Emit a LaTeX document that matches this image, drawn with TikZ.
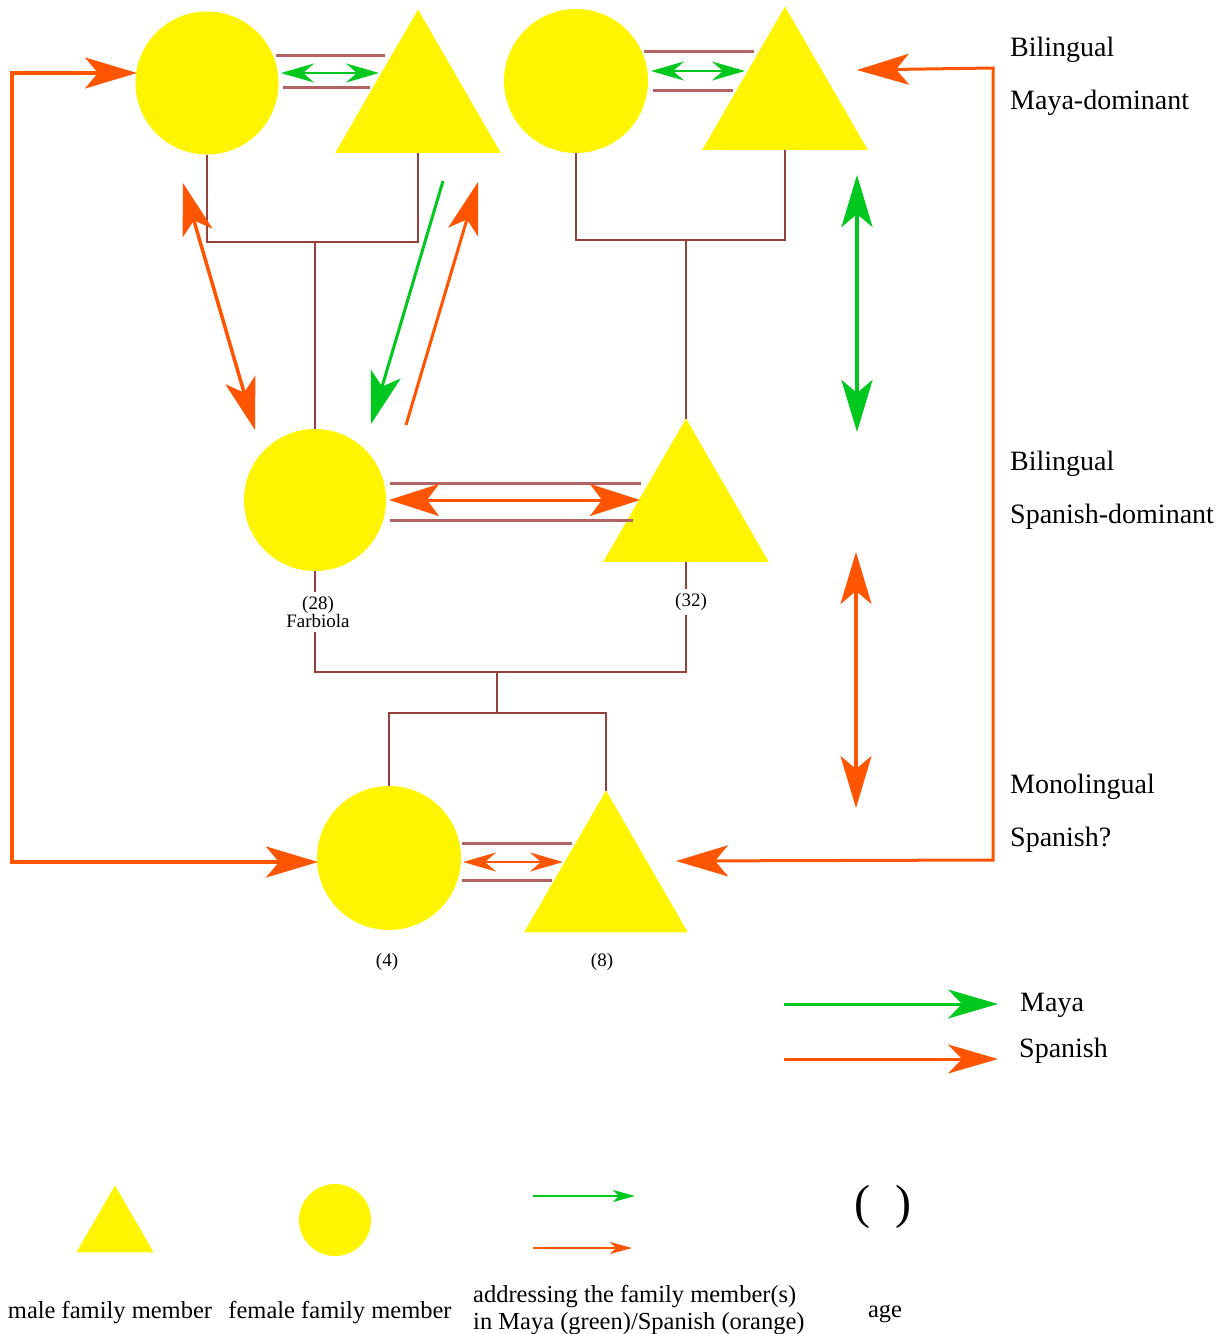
\documentclass[tikz,border=0pt]{standalone}
\usepackage{fontspec}
\setmainfont{Liberation Serif}
\usetikzlibrary{arrows.meta,shapes.geometric}
\definecolor{yel}{RGB}{255,245,0}
\definecolor{org}{RGB}{255,85,0}
\definecolor{grn}{RGB}{0,200,30}
\definecolor{brn}{RGB}{150,65,60}
\definecolor{cplc}{RGB}{178,100,100}
\begin{document}
\begin{tikzpicture}[x=1pt,y=-1pt,
  fem/.style={circle, fill=yel, draw=none, inner sep=0, outer sep=0, minimum size=#1},
  mal/.style={regular polygon, regular polygon sides=3, fill=yel, draw=none, inner sep=0, outer sep=0, minimum size=#1},
  desc/.style={draw=brn, line width=2},
  cpl/.style={draw=cplc, line width=3},
  obig/.style={draw=org, line width=3.5},
  gbig/.style={draw=grn, line width=3.5},
  tboth/.style={arrows={Stealth[length=52pt,width=31pt,inset=13pt]-Stealth[length=52pt,width=31pt,inset=13pt]}},
  tend/.style={arrows={-Stealth[length=52pt,width=31pt,inset=13pt]}},
  tmid/.style={arrows={Stealth[length=50pt,width=32pt,inset=12pt]-Stealth[length=50pt,width=32pt,inset=12pt]}},
  tleg/.style={arrows={-Stealth[length=50pt,width=29pt,inset=14pt]}},
  tsm/.style={arrows={Stealth[length=33pt,width=19pt,inset=11pt]-Stealth[length=33pt,width=19pt,inset=11pt]}},
  ttiny/.style={arrows={-Stealth[length=22pt,width=12pt,inset=6pt]}},
  rt/.style={font=\fontsize{28}{30}\selectfont, anchor=base west, inner sep=0},
  lg/.style={font=\fontsize{24.5}{26}\selectfont, anchor=base, inner sep=0},
  sm/.style={font=\fontsize{19}{18}\selectfont, inner sep=1.5, align=center}
]
\useasboundingbox (0,0) rectangle (1231,1334);
\fill[white] (0,0) rectangle (1231,1334);

% family members
\node[fem=143] (F1) at (207,83) {};
\node[mal=191] (M1) at (418,105) {};
\node[fem=144] (F3) at (576,81) {};
\node[mal=191] (M3) at (785,102) {};
\node[fem=142] (F2) at (315,500) {};
\node[mal=191] (M4) at (686,514) {};
\node[fem=144] (F5) at (389,858) {};
\node[mal=189] (M6) at (606,885) {};

% descent lines
\coordinate (j1) at (315,242);
\coordinate (j2) at (686,240);
\coordinate (j3) at (497,672);
\coordinate (j4) at (497,713);
\draw[desc] (F1.south) |- (j1) -| (M1.south);
\draw[desc] (j1) -- (F2.north);
\draw[desc] (F3.south) |- (j2) -| (M3.south);
\draw[desc] (j2) -- (M4.north);
\draw[desc] (F2.south) |- (j3) -| (M4.south);
\draw[desc] (j3) -- (j4);
\draw[desc] (F5.north) |- (j4) -| (M6.north);

% ages
\node[sm, fill=white, inner ysep=4] (a28) at (318,612) {(28)\\Farbiola};
\node[sm, fill=white, inner ysep=4] (a32) at (691,602) {(32)};
\node[sm] (a4) at (387,962) {(4)};
\node[sm] (a8) at (602,962) {(8)};

% couple lines
\draw[cpl] (276,55) -- (385,55);
\draw[cpl] (283,87) -- (370,87);
\draw[cpl] (644,51) -- (754,51);
\draw[cpl] (653,90) -- (733,90);
\draw[cpl] (390,483) -- (641,483);
\draw[cpl] (390,520) -- (633,520);
\draw[cpl] (462,843) -- (572,843);
\draw[cpl] (462,880) -- (552,880);

% arrow end points
\coordinate (p1a) at (281,73);  \coordinate (p1b) at (379,73);
\coordinate (p2a) at (651,71);  \coordinate (p2b) at (745,71);
\coordinate (p3a) at (389,500); \coordinate (p3b) at (640,500);
\coordinate (p4a) at (463,862); \coordinate (p4b) at (563,862);
\coordinate (d1a) at (183,183); \coordinate (d1b) at (255,430);
\coordinate (d2a) at (443,181); \coordinate (d2b) at (371,424);
\coordinate (d3a) at (406,425); \coordinate (d3b) at (478,182);
\coordinate (v1a) at (857,175); \coordinate (v1b) at (857,432);
\coordinate (v2a) at (856,552); \coordinate (v2b) at (856,808);
\coordinate (la) at (137,73);  \coordinate (lc1) at (12,73);
\coordinate (lc2) at (12,862); \coordinate (lb) at (318,862);
\coordinate (ra) at (857,70);  \coordinate (rc1) at (993,68);
\coordinate (rc2) at (993,860); \coordinate (rb) at (676,861);

% language arrows
\draw[grn, line width=2.5, tsm] (p1a) -- (p1b);
\draw[grn, line width=2.5, tsm] (p2a) -- (p2b);
\draw[org, line width=3, tmid] (p3a) -- (p3b);
\draw[org, line width=2.5, tsm] (p4a) -- (p4b);
\draw[obig, tboth] (d1a) -- (d1b);
\draw[draw=grn, line width=3, tend] (d2a) -- (d2b);
\draw[draw=org, line width=3, tend] (d3a) -- (d3b);
\draw[gbig, tboth] (v1a) -- (v1b);
\draw[obig, tboth] (v2a) -- (v2b);
\draw[obig, tboth] (la) -- (lc1) -- (lc2) -- (lb);
\draw[draw=org, line width=3, tboth] (ra) -- (rc1) -- (rc2) -- (rb);

% right labels
\node[rt] (t1) at (1010,56) {Bilingual};
\node[rt] (t2) at (1010,109) {Maya-dominant};
\node[rt] (t3) at (1010,470) {Bilingual};
\node[rt] (t4) at (1010,523) {Spanish-dominant};
\node[rt] (t5) at (1010,793) {Monolingual};
\node[rt] (t6) at (1010,846) {Spanish?};

% Maya / Spanish legend
\coordinate (lm1) at (784,1004); \coordinate (lm2) at (998,1004);
\coordinate (ls1) at (784,1059); \coordinate (ls2) at (998,1059);
\draw[grn, line width=3, tleg] (lm1) -- (lm2);
\draw[org, line width=3, tleg] (ls1) -- (ls2);
\node[rt] (tm) at (1020,1011) {Maya};
\node[rt] (ts) at (1019,1057) {Spanish};

% bottom legend
\node[mal=89] (LM) at (115,1230) {};
\node[fem=72] (LF) at (335,1220) {};
\coordinate (k1) at (533,1196); \coordinate (k2) at (635,1196);
\coordinate (k3) at (533,1248); \coordinate (k4) at (632,1248);
\draw[grn, line width=2, ttiny] (k1) -- (k2);
\draw[org, line width=2, ttiny] (k3) -- (k4);
\node[font=\fontsize{48}{50}\selectfont, inner sep=0] (par) at (883,1207) {(\hspace{14pt} )};
\node[lg] (tl1) at (110,1318) {male family member};
\node[lg] (tl2) at (340,1318) {female family member};
\node[lg, anchor=base west] (tl3) at (473,1302) {addressing the family member(s)};
\node[lg, anchor=base west] (tl4) at (473,1329) {in Maya (green)/Spanish (orange)};
\node[lg] (tl5) at (885,1317) {age};
\end{tikzpicture}
\end{document}
